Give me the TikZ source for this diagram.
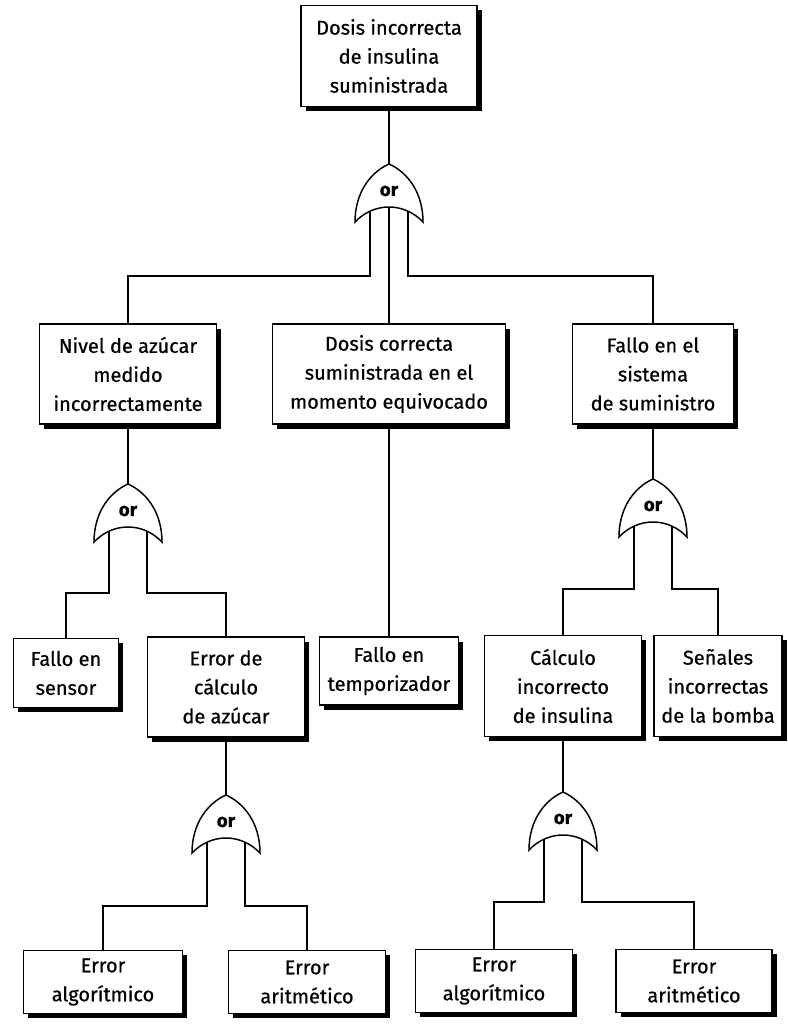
\documentclass[tikz,border=0pt]{standalone}
\usepackage{fontspec}
\setmainfont{Fira Sans}[FakeBold=0.6]
\usetikzlibrary{shadows}

\begin{document}
\begin{tikzpicture}[
    x=0.75pt,
    y=-0.75pt,
    font=\fontsize{15}{21.75}\selectfont,
    event/.style={rectangle, draw=black, line width=1.2pt, fill=white, align=center, inner sep=2pt,
      drop shadow={shadow xshift=3.5pt, shadow yshift=-3.5pt, opacity=1, fill=black}},
    wire/.style={line width=0.9pt},
    orgate/.pic={
      \draw[line width=1.1pt, fill=white] (-34,0) .. controls (-34,-30) and (-18,-50) .. (0,-58)
        .. controls (18,-50) and (34,-30) .. (34,0) .. controls (15,-20) and (-15,-20) .. cycle;
      \node[font=\fontsize{14}{15}\bfseries] at (0,-31) {or};
      \coordinate (-top) at (0,-58);
      \coordinate (-l) at (-19,-11);
      \coordinate (-c) at (0,-15);
      \coordinate (-r) at (19,-11);
    }
  ]
    \useasboundingbox (0,0) rectangle (788,1024);

    \node[event, minimum width=132pt, minimum height=76pt] (top) at (389,56) {Dosis incorrecta\\de insulina\\suministrada};
    \node[event, minimum width=133pt, minimum height=75pt] (nivel) at (128,374) {Nivel de azúcar\\medido\\incorrectamente};
    \node[event, minimum width=175pt, minimum height=75pt] (dosis) at (389,374) {Dosis correcta\\suministrada en el\\momento equivocado};
    \node[event, minimum width=121pt, minimum height=75pt] (sistema) at (653,374) {Fallo en el\\sistema\\de suministro};
    \node[event, minimum width=79pt, minimum height=52pt] (sensor) at (66,673) {Fallo en\\sensor};
    \node[event, minimum width=118pt, minimum height=75pt] (azucar) at (226,687) {Error de\\cálculo\\de azúcar};
    \node[event, minimum width=104pt, minimum height=51pt] (tempo) at (389,671) {Fallo en\\temporizador};
    \node[event, minimum width=118pt, minimum height=76pt] (insulina) at (563,686) {Cálculo\\incorrecto\\de insulina};
    \node[event, minimum width=96pt, minimum height=76pt] (bomba) at (718,686) {Señales\\incorrectas\\de la bomba};
    \node[event, minimum width=119pt, minimum height=47pt] (algA) at (103,982) {Error\\algorítmico};
    \node[event, minimum width=118pt, minimum height=47pt] (ariA) at (307,982) {Error\\aritmético};
    \node[event, minimum width=118pt, minimum height=47pt] (algB) at (494,981) {Error\\algorítmico};
    \node[event, minimum width=117pt, minimum height=47pt] (ariB) at (694,981) {Error\\aritmético};

    \pic (g0) at (389,222) {orgate};
    \pic (g1) at (128,542) {orgate};
    \pic (g2) at (653,537) {orgate};
    \pic (g3) at (226,853) {orgate};
    \pic (g4) at (563,850) {orgate};

    \draw[wire] (top) -- (g0-top);
    \draw[wire] (g0-l) -- ++(0,65) -| (nivel.north);
    \draw[wire] (g0-c) -- (dosis);
    \draw[wire] (g0-r) -- ++(0,65) -| (sistema.north);
    \draw[wire] (nivel) -- (g1-top);
    \draw[wire] (g1-l) -- ++(0,62) -| (sensor.north);
    \draw[wire] (g1-r) -- ++(0,62) -| (azucar.north);
    \draw[wire] (dosis) -- (tempo);
    \draw[wire] (sistema) -- (g2-top);
    \draw[wire] (g2-l) -- ++(0,63) -| (insulina.north);
    \draw[wire] (g2-r) -- ++(0,63) -| (bomba.north);
    \draw[wire] (azucar) -- (g3-top);
    \draw[wire] (g3-l) -- ++(0,64) -| (algA.north);
    \draw[wire] (g3-r) -- ++(0,64) -| (ariA.north);
    \draw[wire] (insulina) -- (g4-top);
    \draw[wire] (g4-l) -- ++(0,63) -| (algB.north);
    \draw[wire] (g4-r) -- ++(0,63) -| (ariB.north);
  \end{tikzpicture}
\end{document}
